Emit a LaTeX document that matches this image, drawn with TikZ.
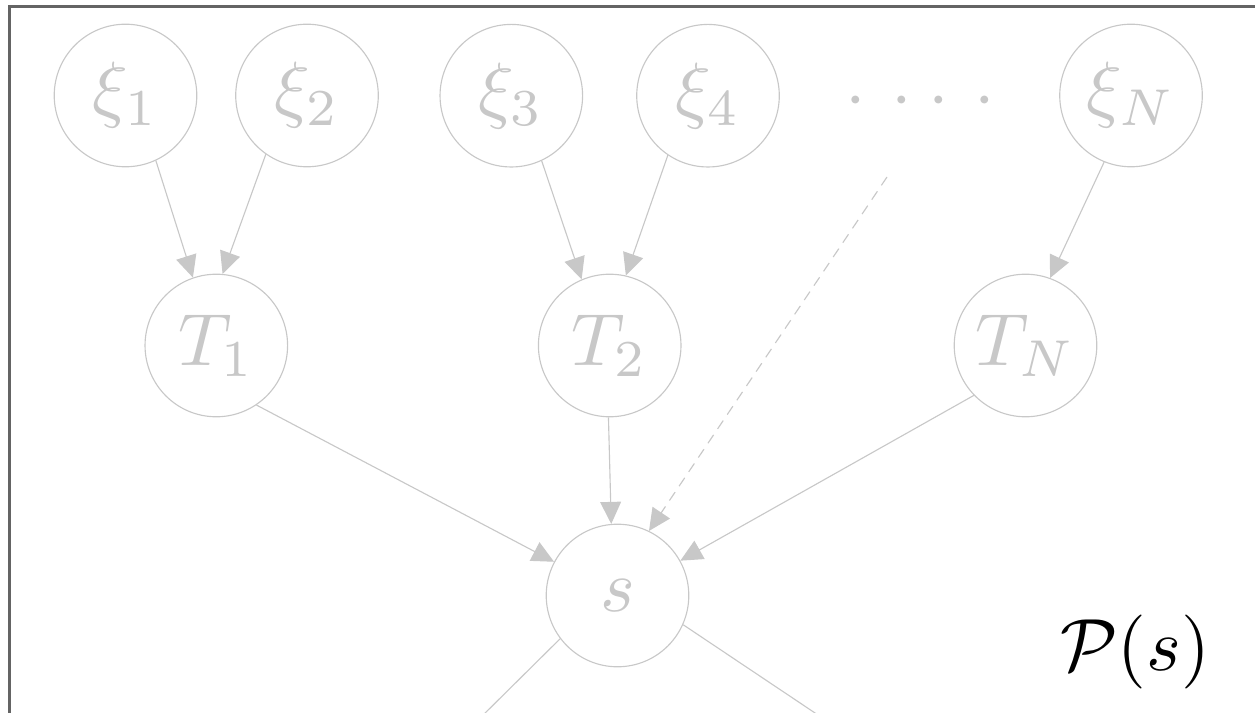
\documentclass[tikz,border=0pt]{standalone}
\usepackage{graphicx}
\usetikzlibrary{arrows.meta}
\definecolor{lg}{RGB}{200,200,200}
\definecolor{fr}{RGB}{100,100,100}
\newcommand{\bigtxt}[1]{\scalebox{2.486}{#1}}
\begin{document}
\begin{tikzpicture}[x=0.336pt,y=-0.336pt,
  var/.style={circle,draw=lg,line width=0.38pt,minimum size=47.9pt,inner sep=0pt,text=lg},
  edge/.style={draw=lg,line width=0.38pt,-{Triangle[length=7.4pt,width=7pt,fill=lg]}},
  plain/.style={draw=lg,line width=0.38pt},
]
\useasboundingbox (0,0) rectangle (1255,713);
\clip (0,0) rectangle (1255,713);
\draw[fr,line width=0.7pt] (9.5,800) -- (9.5,6.5) -- (1300,6.5);

\node[var] (x1) at (125.5,95.5) {\bigtxt{$\xi_1$}};
\node[var] (x2) at (307,95.5) {\bigtxt{$\xi_2$}};
\node[var] (x3) at (511.3,95.7) {\bigtxt{$\xi_3$}};
\node[var] (x4) at (708,95.7) {\bigtxt{$\xi_4$}};
\node[var] (xN) at (1131,95.5) {\bigtxt{$\xi_N$}};
\node[var] (T1) at (216.3,345.5) {\bigtxt{$T_1$}};
\node[var] (T2) at (609.7,345.5) {\bigtxt{$T_2$}};
\node[var] (TN) at (1025.5,345.5) {\bigtxt{$T_N$}};
\node[var] (s) at (617.5,595.5) {\bigtxt{$s$}};
\node[text=lg,anchor=base,inner sep=0pt] (dots) at (920.5,118.5)
  {\bigtxt{${\cdot}\mkern6.2mu{\cdot}\mkern4mu{\cdot}\mkern6.2mu{\cdot}$}};
\node[anchor=base,inner sep=0pt] (P) at (1135,670) {\bigtxt{$\mathcal{P}(s)$}};

\coordinate (d0) at (887,177);
\coordinate (b1) at (470,728);
\coordinate (b2) at (830,723);

\draw[edge] (x1.-65.9) -- (T1.109.3);
\draw[edge] (x2.-125.7) -- (T1.85.4);
\draw[edge] (x3.-65.3) -- (T2.113.8);
\draw[edge] (x4.-124.9) -- (T2.77.5);
\draw[edge] (xN.-112.8) -- (TN.70.3);
\draw[edge] (T1.-56.6) -- (s.152.3);
\draw[edge] (T2.-91.6) -- (s.95.1);
\draw[edge] (TN.-136.4) -- (s.29.9);
\draw[edge,dash pattern=on 3.4pt off 2.4pt] (d0) -- (s.64.3);
\draw[plain] (s.-143.5) -- (b1);
\draw[plain] (s.-24.2) -- (b2);
\end{tikzpicture}
\end{document}
